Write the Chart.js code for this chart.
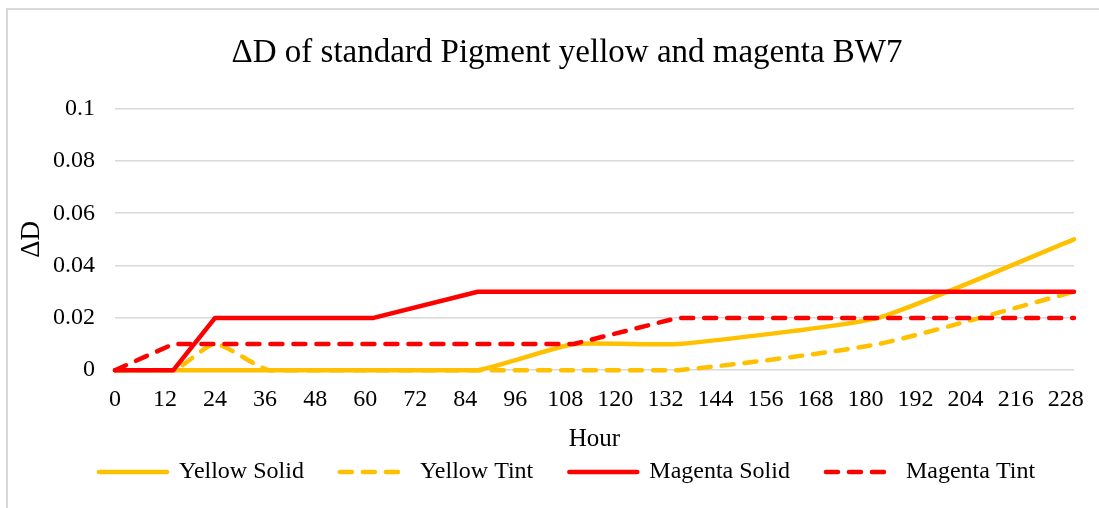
<!DOCTYPE html>
<html>
<head>
<meta charset="utf-8">
<script src="https://cdn.jsdelivr.net/npm/chart.js@4/dist/chart.umd.min.js"></script>
<style>
  html, body { margin: 0; padding: 0; background: #ffffff; }
  #wrap { position: relative; width: 1099px; height: 508px; }
</style>
</head>
<body>
<div id="wrap"><canvas id="c" width="1099" height="508"></canvas></div>
<script>
// ---- data ----
const titleText = 'ΔD of standard Pigment yellow and magenta BW7';
const xAxisTitle = 'Hour';
const yAxisTitle = 'ΔD';
const seriesNames = ['Yellow Solid', 'Yellow Tint', 'Magenta Solid', 'Magenta Tint'];
const hours = [0, 14, 24, 37, 62, 87, 110, 135, 183, 230];
const yellowSolid  = [0, 0, 0, 0, 0, 0, 0.01, 0.01, 0.02, 0.05];
const yellowTint   = [0, 0, 0.01, 0, 0, 0, 0, 0, 0.01, 0.03];
const magentaSolid = [0, 0, 0.02, 0.02, 0.02, 0.03, 0.03, 0.03, 0.03, 0.03];
const magentaTint  = [0, 0.01, 0.01, 0.01, 0.01, 0.01, 0.01, 0.02, 0.02, 0.02];
const xTicks = [0, 12, 24, 36, 48, 60, 72, 84, 96, 108, 120, 132, 144, 156, 168, 180, 192, 204, 216, 228];
const yTicks = [0, 0.02, 0.04, 0.06, 0.08, 0.1];
const yTickLabels = ['0', '0.02', '0.04', '0.06', '0.08', '0.1'];

const YELLOW = '#FFC000';
const RED = '#FF0000';
const FONT = "'Liberation Serif', 'Times New Roman', serif";
const LW = 4.5;
const DASH = [12, 11];

function pts(vals) { return hours.map((h, i) => ({ x: h, y: vals[i] })); }

const borderPlugin = {
  id: 'outerBorder',
  beforeDraw(chart) {
    const ctx = chart.ctx;
    ctx.save();
    ctx.strokeStyle = '#d9d9d9';
    ctx.lineWidth = 2;
    ctx.beginPath();
    ctx.moveTo(7, 508);
    ctx.lineTo(7, 9);
    ctx.lineTo(1099, 9);
    ctx.stroke();
    ctx.restore();
  }
};

const common = { pointRadius: 0, pointHoverRadius: 0, borderWidth: LW, borderCapStyle: 'round', borderJoinStyle: 'round', fill: false, clip: 8 };

new Chart(document.getElementById('c'), {
  type: 'line',
  data: {
    datasets: [
      Object.assign({ label: seriesNames[0], data: pts(yellowSolid), borderColor: YELLOW, backgroundColor: YELLOW, tension: 0.15, order: 4 }, common),
      Object.assign({ label: seriesNames[1], data: pts(yellowTint), borderColor: YELLOW, backgroundColor: YELLOW, borderDash: DASH, tension: 0.2, order: 3 }, common),
      Object.assign({ label: seriesNames[2], data: pts(magentaSolid), borderColor: RED, backgroundColor: RED, order: 2 }, common),
      Object.assign({ label: seriesNames[3], data: pts(magentaTint), borderColor: RED, backgroundColor: RED, borderDash: DASH, order: 1 }, common)
    ]
  },
  options: {
    responsive: false,
    animation: false,
    events: [],
    layout: { padding: { left: 60, right: 25, top: 0, bottom: 14 } },
    plugins: {
      title: {
        display: true,
        text: titleText,
        color: '#000',
        font: { family: FONT, size: 33, weight: 'normal' },
        padding: { top: 34, bottom: 35 }
      },
      legend: {
        position: 'bottom',
        labels: {
          usePointStyle: true,
          pointStyle: 'line',
          pointStyleWidth: 68,
          boxHeight: 20,
          color: '#000',
          font: { family: FONT, size: 24 },
          padding: 36,
          sort: (a, b) => a.datasetIndex - b.datasetIndex,
          generateLabels(chart) {
            const items = Chart.defaults.plugins.legend.labels.generateLabels(chart);
            items.forEach(it => {
              const ds = chart.data.datasets[it.datasetIndex];
              it.lineDash = ds.borderDash || [];
              it.lineWidth = LW;
              it.strokeStyle = ds.borderColor;
              it.fillStyle = ds.borderColor;
              it.lineCap = 'round';
              it.pointStyle = 'line';
            });
            return items;
          }
        }
      },
      tooltip: { enabled: false }
    },
    scales: {
      x: {
        type: 'linear',
        min: 0,
        max: 230,
        grid: { display: false, drawTicks: false },
        border: { display: false },
        afterBuildTicks(scale) { scale.ticks = xTicks.map(v => ({ value: v })); },
        ticks: { color: '#000', font: { family: FONT, size: 24 }, padding: 15, maxRotation: 0, autoSkip: false },
        title: { display: true, text: xAxisTitle, color: '#000', font: { family: FONT, size: 25 }, padding: { top: -5, bottom: -30 } }
      },
      y: {
        min: 0,
        max: 0.1,
        grid: { color: '#d9d9d9', lineWidth: 1.5, drawTicks: false },
        border: { display: false },
        afterBuildTicks(scale) { scale.ticks = yTicks.map(v => ({ value: v })); },
        afterFit(scale) {
          scale.width = 55;
          // let tick labels extend left of the narrowed scale box
          scale._computeLabelArea = () => ({ top: 0, left: 0, bottom: scale.chart.height, right: scale.right });
        },
        ticks: {
          color: '#000',
          font: { family: FONT, size: 24 },
          padding: 20,
          callback: (v, i) => yTickLabels[i]
        },
        title: { display: true, text: yAxisTitle, color: '#000', font: { family: FONT, size: 27 }, padding: { top: -44, bottom: 0 } }
      }
    }
  },
  plugins: [borderPlugin]
});
</script>
</body>
</html>
